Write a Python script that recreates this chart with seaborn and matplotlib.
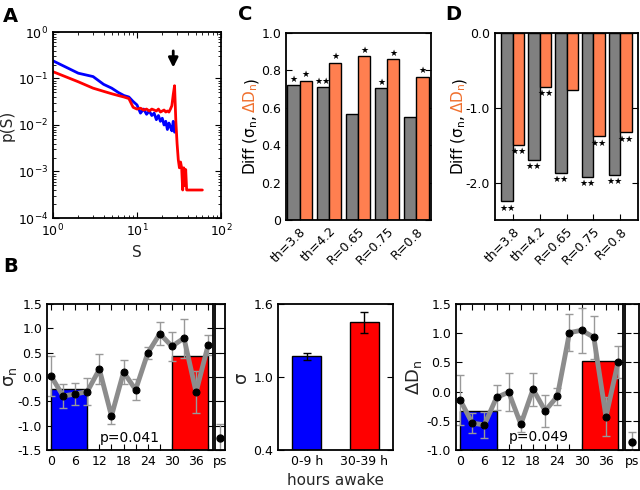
import numpy as np
import pandas as pd
import matplotlib
matplotlib.use('Agg')
import matplotlib.pyplot as plt
import seaborn as sns

# --- data ---
# A: size distributions p(S)
S_blue = [1, 2, 3, 4, 5, 6, 7, 8, 9, 10, 11, 12, 13, 14, 15, 16, 17, 18, 19, 20,
          21, 22, 23, 24, 25, 26, 27, 28]
p_blue = [0.24, 0.13, 0.11, 0.075, 0.062, 0.05, 0.043, 0.04, 0.032, 0.027, 0.018,
          0.022, 0.017, 0.02, 0.016, 0.018, 0.013, 0.016, 0.012, 0.014, 0.010,
          0.012, 0.008, 0.011, 0.009, 0.0075, 0.012, 0.007]
S_red = [1, 2, 3, 4, 5, 6, 7, 8, 9, 10, 11, 12, 13, 14, 15, 16, 17, 18, 19, 20,
         21, 22, 23, 24, 25, 26, 27, 28, 29, 30, 31, 32, 33, 34, 35, 36, 37, 38,
         39, 40, 45, 50, 55, 60]
p_red = [0.14, 0.085, 0.062, 0.053, 0.047, 0.043, 0.040, 0.037, 0.024, 0.022,
         0.023, 0.021, 0.022, 0.020, 0.022, 0.021, 0.020, 0.022, 0.019, 0.020,
         0.021, 0.019, 0.020, 0.019, 0.022, 0.026, 0.045, 0.07, 0.012, 0.004,
         0.0018, 0.0012, 0.0016, 0.0012, 0.0004, 0.0012, 0.0005, 0.0011, 0.0004,
         0.0004, 0.0004, 0.0004, 0.0004, 0.0004]

# C / D: differences per condition
conds = ['th=3.8', 'th=4.2', 'R=0.65', 'R=0.75', 'R=0.8']
c_sigma = [0.72, 0.71, 0.565, 0.705, 0.55]
c_delta = [0.745, 0.84, 0.875, 0.86, 0.765]
c_sigma_stars = ['*', '**', '', '*', '']
c_delta_stars = ['*', '*', '*', '*', '*']
d_sigma = [-2.25, -1.70, -1.87, -1.92, -1.90]
d_delta = [-1.50, -0.72, -0.76, -1.38, -1.33]
d_sigma_stars = ['**', '**', '**', '**', '**']
d_delta_stars = ['**', '**', '', '**', '**']

# B: time course over hours awake
hours = [0, 3, 6, 9, 12, 15, 18, 21, 24, 27, 30, 33, 36, 39]
sigma_n = [0.02, -0.39, -0.35, -0.30, 0.16, -0.80, 0.10, -0.26, 0.49, 0.89,
           0.63, 0.80, -0.31, 0.66]
sigma_err = [0.42, 0.25, 0.23, 0.28, 0.31, 0.16, 0.24, 0.22, 0.12, 0.23, 0.30,
             0.40, 0.43, 0.20]
sigma_early, sigma_late = -0.25, 0.44
sigma_ps, sigma_ps_err = -1.245, 0.27

dD_n = [-0.14, -0.54, -0.57, -0.10, -0.01, -0.56, 0.04, -0.33, -0.08, 1.01,
        1.05, 0.93, -0.43, 0.51]
dD_err = [0.43, 0.17, 0.22, 0.22, 0.33, 0.14, 0.28, 0.27, 0.15, 0.32, 0.39,
          0.37, 0.33, 0.27]
dD_early, dD_late = -0.34, 0.52
dD_ps, dD_ps_err = -0.87, 0.17

groups = ['0-9 h', '30-39 h']
sigma_abs = [1.17, 1.45]
sigma_abs_err = [0.03, 0.087]

GRAY = '#808080'
ORANGE = '#ff7f50'
ORANGE_TXT = '#f0702e'

sns.set_style('ticks', {'xtick.direction': 'in', 'ytick.direction': 'in'})
plt.rcParams.update({'xtick.top': True, 'ytick.right': True,
                     'axes.linewidth': 1.3, 'font.size': 9,
                     'xtick.labelsize': 9, 'ytick.labelsize': 9,
                     'xtick.major.size': 4, 'ytick.major.size': 4,
                     'xtick.minor.size': 2, 'ytick.minor.size': 2,
                     'axes.unicode_minus': False,
                     'axes.edgecolor': 'black', 'text.color': 'black',
                     'xtick.color': 'black', 'ytick.color': 'black'})

W, H = 640, 490
fig = plt.figure(figsize=(6.4, 4.9), dpi=100)


def box(x0, y0, x1, y1):
    return [x0 / W, 1 - y1 / H, (x1 - x0) / W, (y1 - y0) / H]


# ---------------- A ----------------
axA = fig.add_axes(box(53, 32, 221, 218))
sns.lineplot(x=S_blue, y=p_blue, color='blue', lw=2, ax=axA)
sns.lineplot(x=S_red, y=p_red, color='red', lw=2, ax=axA)
axA.set_xscale('log')
axA.set_yscale('log')
axA.set_xlim(1, 100)
axA.set_ylim(1e-4, 1)
axA.set_xlabel('S', fontsize=11)
axA.set_ylabel('p(S)', fontsize=11, labelpad=2)
axA.annotate('', xy=(27, 0.15), xytext=(27, 0.45),
             arrowprops=dict(arrowstyle='-|>', lw=2, color='black',
                             mutation_scale=14))

# ---------------- C / D ----------------


def diff_bars(ax, sig, dlt, sig_st, dlt_st, above):
    df = pd.DataFrame({'cond': conds * 2,
                       'val': sig + dlt,
                       'kind': ['sigma'] * 5 + ['delta'] * 5})
    sns.barplot(data=df, x='cond', y='val', hue='kind',
                palette=[GRAY, ORANGE], saturation=1, edgecolor='black',
                linewidth=1, width=0.84, legend=False, ax=ax)
    for cont, stars in zip(ax.containers, [sig_st, dlt_st]):
        for bar, st in zip(cont, stars):
            if not st:
                continue
            xc = bar.get_x() + bar.get_width() / 2
            if above:
                ax.text(xc, bar.get_height() + 0.008, '\u2605' * len(st),
                        ha='center', va='bottom', fontsize=6.5)
            else:
                ax.text(xc, bar.get_height() - 0.03, '\u2605' * len(st),
                        ha='center', va='top', fontsize=6.5)
    ax.set_xlabel('')
    ax.set_ylabel('')
    ax.tick_params(axis='x', top=False)
    ax.set_xticks(range(5))
    ax.set_xticklabels(conds, rotation=45, ha='right', rotation_mode='anchor')


axC = fig.add_axes(box(286, 33, 431, 220))
diff_bars(axC, c_sigma, c_delta, c_sigma_stars, c_delta_stars, True)
axC.set_xlim(-0.47, 4.5)
axC.set_ylim(0, 1.0)
axC.set_yticks([0, 0.2, 0.4, 0.6, 0.8, 1.0])
axC.set_yticklabels(['0', '0.2', '0.4', '0.6', '0.8', '1.0'])

axD = fig.add_axes(box(495, 33, 638, 220))
diff_bars(axD, d_sigma, d_delta, d_sigma_stars, d_delta_stars, False)
axD.set_xlim(-0.66, 4.66)
axD.set_ylim(-2.5, 0)
axD.set_yticks([0, -1, -2])
axD.set_yticklabels(['0.0', '-1.0', '-2.0'])

fig.canvas.draw()
rend = fig.canvas.get_renderer()


def two_colour_ylabel(xpix, ycent_pix, parts, size=11):
    texts = []
    y = 0
    for s, c in parts:
        t = fig.text(xpix / W, 0, s, color=c, fontsize=size, rotation=90,
                     rotation_mode='anchor', ha='left', va='baseline')
        texts.append((t, y))
        y += t.get_window_extent(rend).height
    y0 = (H - ycent_pix) - y / 2
    for t, off in texts:
        t.set_position((xpix / W, (y0 + off) / H))


label_parts = [('Diff (\u03c3$_\\mathregular{n}$, ', 'black'),
               ('\u0394D$_\\mathregular{n}$', ORANGE_TXT),
               (')', 'black')]
two_colour_ylabel(255, 126, label_parts)
two_colour_ylabel(463, 126, label_parts)

# ---------------- B ----------------


def time_course(ax, axps, vals, errs, early, late, ps, ps_err, ylim, yt,
                ylab, ptxt, pxy, labx):
    lo = ylim[0]
    ax.bar(4.5, early - lo, bottom=lo, width=9, color='blue',
           edgecolor='black', lw=1, zorder=1)
    ax.bar(34.5, late - lo, bottom=lo, width=9, color='red',
           edgecolor='black', lw=1, zorder=1)
    ax.errorbar(hours, vals, yerr=errs, fmt='none', ecolor='#999999',
                elinewidth=1, capsize=3, zorder=2)
    sns.lineplot(x=hours, y=vals, color='#8c8c8c', lw=3.5, marker='o',
                 markersize=5, markerfacecolor='black',
                 markeredgecolor='black', zorder=3, ax=ax)
    ax.set_xlim(-1, 40.2)
    ax.set_ylim(*ylim)
    ax.set_xticks(hours)
    ax.set_xticklabels([str(h) if h % 6 == 0 else '' for h in hours])
    ax.set_yticks(yt)
    ax.set_yticklabels([f'{v:.1f}' for v in yt])
    ax.set_ylabel(ylab, fontsize=13)
    ax.yaxis.set_label_coords(labx, 0.5)
    ax.text(pxy[0], pxy[1], ptxt, ha='center', va='center', fontsize=10)

    axps.errorbar([0], [ps], yerr=[ps_err], fmt='o', color='black',
                  ecolor='#999999', elinewidth=1, capsize=3, ms=5)
    axps.set_xlim(-1, 1)
    axps.set_ylim(*ylim)
    axps.set_xticks([0])
    axps.set_xticklabels(['ps'])
    axps.tick_params(axis='x', top=False, bottom=False)
    axps.set_yticks(yt)
    axps.set_yticklabels([])


axB1 = fig.add_axes(box(47, 304, 213, 450))
axB1ps = fig.add_axes(box(215, 304, 225, 450))
time_course(axB1, axB1ps, sigma_n, sigma_err, sigma_early, sigma_late,
            sigma_ps, sigma_ps_err, (-1.5, 1.5),
            [-1.5, -1.0, -0.5, 0.0, 0.5, 1.0, 1.5],
            '\u03c3$_\\mathregular{n}$', 'p=0.041', (19.5, -1.26), -0.17)

axB3 = fig.add_axes(box(456, 304, 623, 450))
axB3ps = fig.add_axes(box(625, 304, 639, 450))
time_course(axB3, axB3ps, dD_n, dD_err, dD_early, dD_late,
            dD_ps, dD_ps_err, (-1.0, 1.5),
            [-1.0, -0.5, 0.0, 0.5, 1.0, 1.5],
            '\u0394D$_\\mathregular{n}$', 'p=0.049', (19.5, -0.78), -0.19)

axB2 = fig.add_axes(box(278, 304, 393, 450))
sns.barplot(x=groups, y=sigma_abs, hue=groups, palette=['blue', 'red'],
            saturation=1, edgecolor='black', linewidth=1, width=0.5,
            legend=False, ax=axB2)
axB2.errorbar([0, 1], sigma_abs, yerr=sigma_abs_err, fmt='none',
              ecolor='black', elinewidth=1, capsize=3)
axB2.set_xlim(-0.5, 1.5)
axB2.set_ylim(0.4, 1.6)
axB2.set_yticks([0.4, 1.0, 1.6])
axB2.tick_params(axis='x', top=False)
axB2.set_xlabel('hours awake', fontsize=11)
axB2.set_ylabel('\u03c3', fontsize=13, labelpad=2)

# panel letters
for s, x, y in [('A', 3, 22), ('C', 238, 20), ('D', 445, 20), ('B', 3, 272)]:
    fig.text(x / W, 1 - y / H, s, fontsize=14, fontweight='bold')

fig.savefig('out.png', dpi=100)
